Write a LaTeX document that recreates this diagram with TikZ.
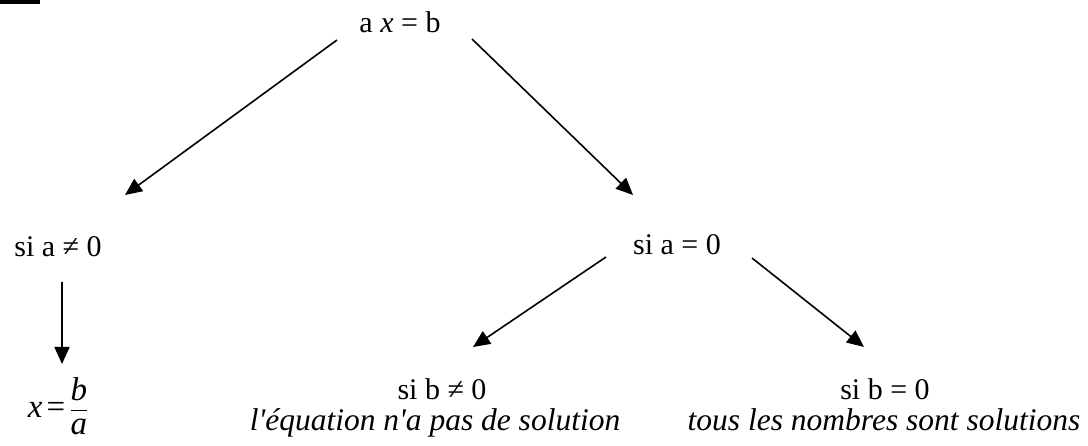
\documentclass[tikz,border=0pt]{standalone}
\usepackage{fontspec}
\usepackage{amsmath}
\setmainfont{Liberation Serif}[Ligatures=TeXOff]
\usetikzlibrary{arrows.meta}
\begin{document}
\begin{tikzpicture}[x=1pt,y=-1pt,
  lbl/.style={inner sep=0pt,anchor=base,font=\fontsize{30}{34}\selectfont},
  itl/.style={inner sep=0pt,anchor=base,font=\fontsize{31.5}{36}\selectfont\itshape},
  arr/.style={line width=1.6pt,-{Triangle[length=17pt,width=15pt]}}]
\useasboundingbox (0,0) rectangle (1088,446);
\fill[black] (0,0) rectangle (40,4.5);
\node[lbl] (top) at (400,33) {a \textit{x} = b};
\node[lbl] (ne) at (58,257) {si a ≠ 0};
\node[lbl] (eq) at (677,255) {si a = 0};
\node[inner sep=0pt,font=\fontsize{33}{38}\selectfont] (sol) at (58,406) {$\text{\itshape x}\,\text{=}\,\dfrac{\text{\itshape b}}{\text{\itshape a}}$};
\node[lbl] (bne) at (442,400) {si b ≠ 0};
\node[itl,text height=0.7em] (bnet) at (435,431) {l'équation n'a pas de solution};
\node[lbl] (beq) at (885,400) {si b = 0};
\node[itl,text height=0.7em] (beqt) at (884,431) {tous les nombres sont solutions};
\coordinate (s1) at (337,40);  \coordinate (e1) at (125,195);
\coordinate (s2) at (472,39);  \coordinate (e2) at (633,195);
\coordinate (s3) at (62,282);  \coordinate (e3) at (62,364);
\coordinate (s4) at (606,257); \coordinate (e4) at (473,347);
\coordinate (s5) at (752,258); \coordinate (e5) at (864,347);
\draw[arr] (s1) -- (e1);
\draw[arr] (s2) -- (e2);
\draw[arr] (s3) -- (e3);
\draw[arr] (s4) -- (e4);
\draw[arr] (s5) -- (e5);
\end{tikzpicture}
\end{document}
